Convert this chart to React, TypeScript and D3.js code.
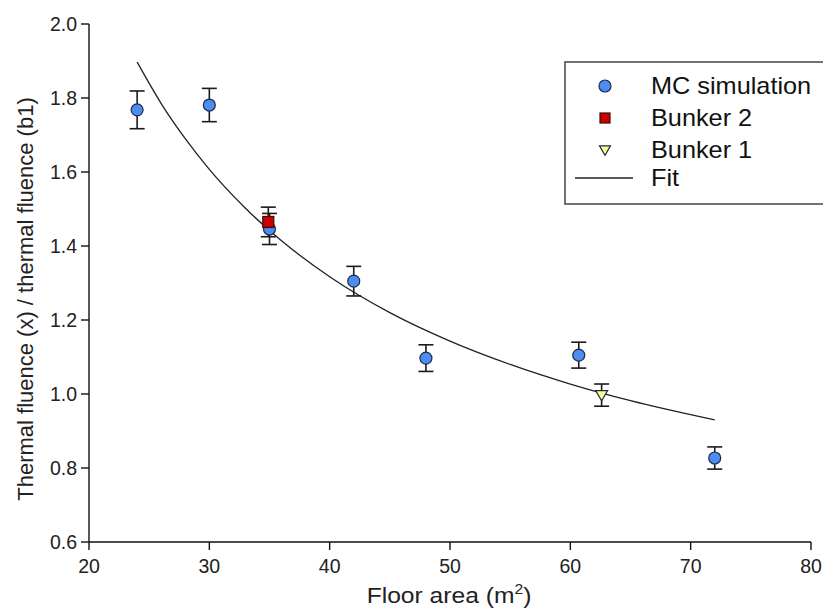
import React from "react";
import * as d3 from "d3";

// MC simulation points
const mcX = [24, 30, 35, 42, 48, 60.7, 72];
const mcY = [1.768, 1.781, 1.446, 1.305, 1.097, 1.105, 0.827];
const mcErr = [0.051, 0.045, 0.042, 0.04, 0.036, 0.035, 0.03];

// Bunker 2
const b2X = [34.9];
const b2Y = [1.465];
const b2Err = [0.04];

// Bunker 1
const b1X = [62.6];
const b1Y = [0.997];
const b1Err = [0.03];

// Fit curve
const fitX = [24, 26, 28, 30, 33, 36, 40, 45, 50, 55, 60, 65, 72];
const fitY = [1.897, 1.785, 1.69, 1.607, 1.502, 1.414, 1.317, 1.22, 1.143, 1.08, 1.027, 0.982, 0.93];

const xTicks = [20, 30, 40, 50, 60, 70, 80];
const yTicks = [0.6, 0.8, 1.0, 1.2, 1.4, 1.6, 1.8, 2.0];

const legendLabels = ["MC simulation", "Bunker 2", "Bunker 1", "Fit"];

const W = 823;
const H = 610;
const FONT = "Liberation Sans, Arial, Helvetica, sans-serif";

export default function App() {
  const x = d3.scaleLinear().domain([20, 80]).range([89, 811]);
  const y = d3.scaleLinear().domain([0.6, 2.0]).range([542, 24]);

  const line = d3
    .line<number>()
    .x((_, i) => x(fitX[i]))
    .y((d) => y(d))
    .curve(d3.curveMonotoneX);

  const capHalf = 7.5;
  const errBar = (cx: number, cy: number, e: number, key: string) => (
    <g key={key} stroke="#1a1a1a" strokeWidth={1.6}>
      <line x1={x(cx)} x2={x(cx)} y1={y(cy + e)} y2={y(cy - e)} />
      <line x1={x(cx) - capHalf} x2={x(cx) + capHalf} y1={y(cy + e)} y2={y(cy + e)} />
      <line x1={x(cx) - capHalf} x2={x(cx) + capHalf} y1={y(cy - e)} y2={y(cy - e)} />
    </g>
  );

  const circleFill = "#4d8cf0";
  const squareFill = "#cc0000";
  const triFill = "#ffff8c";
  const markStroke = "#1d2b4a";

  const tri = (cx: number, cy: number, s: number) =>
    `M${cx - s},${cy - s * 0.75} L${cx + s},${cy - s * 0.75} L${cx},${cy + s * 0.95} Z`;

  const legX = 605;
  const legRows = [86, 118, 150, 178];

  return (
    <svg
      width={W}
      height={H}
      style={{ position: "absolute", left: 0, top: 0, background: "#fff" }}
      fontFamily={FONT}
    >
      <rect x={0} y={0} width={W} height={H} fill="#fff" />

      {/* axes */}
      <g stroke="#111" strokeWidth={1.4} fill="none">
        <line x1={x(20)} x2={x(20)} y1={y(2.0)} y2={y(0.6)} />
        <line x1={x(20)} x2={x(80)} y1={y(0.6)} y2={y(0.6)} />
        {yTicks.map((t) => (
          <line key={"yt" + t} x1={x(20) - 8} x2={x(20)} y1={y(t)} y2={y(t)} />
        ))}
        {xTicks.map((t) => (
          <line key={"xt" + t} x1={x(t)} x2={x(t)} y1={y(0.6)} y2={y(0.6) + 8} />
        ))}
      </g>
      <g fontSize={19.5} fill="#222">
        {yTicks.map((t) => (
          <text key={"yl" + t} x={x(20) - 12} y={y(t)} dy="0.35em" textAnchor="end">
            {t.toFixed(1)}
          </text>
        ))}
        {xTicks.map((t) => (
          <text key={"xl" + t} x={x(t)} y={y(0.6) + 31} textAnchor="middle">
            {t}
          </text>
        ))}
      </g>
      <g transform="translate(449,0) scale(1.12,1)">
        <text x={0} y={603} fontSize={22} textAnchor="middle" fill="#222">
          Floor area (m
          <tspan fontSize={14} dy={-9}>2</tspan>
          <tspan dy={9}>)</tspan>
        </text>
      </g>
      <text
        transform={`translate(33,299) rotate(-90)`}
        fontSize={22}
        textAnchor="middle"
        fill="#222"
      >
        Thermal fluence (x) / thermal fluence (b1)
      </text>

      {/* fit */}
      <path d={line(fitY) || ""} fill="none" stroke="#222" strokeWidth={1.3} />

      {/* error bars */}
      {mcX.map((v, i) => errBar(v, mcY[i], mcErr[i], "me" + i))}
      {b1X.map((v, i) => errBar(v, b1Y[i], b1Err[i], "b1e" + i))}
      {b2X.map((v, i) => errBar(v, b2Y[i], b2Err[i], "b2e" + i))}

      {/* markers */}
      {mcX.map((v, i) => (
        <circle key={"mc" + i} cx={x(v)} cy={y(mcY[i])} r={6} fill={circleFill} stroke={markStroke} strokeWidth={1.2} />
      ))}
      {b1X.map((v, i) => (
        <path key={"b1" + i} d={tri(x(v), y(b1Y[i]), 6)} fill={triFill} stroke={markStroke} strokeWidth={1.2} />
      ))}
      {b2X.map((v, i) => (
        <rect key={"b2" + i} x={x(v) - 5.5} y={y(b2Y[i]) - 5.5} width={11} height={11} fill={squareFill} stroke="#3a0a0a" strokeWidth={1.2} />
      ))}

      {/* legend */}
      <rect x={565} y={62} width={270} height={142} fill="#fff" stroke="#444" strokeWidth={1.5} />
      <circle cx={legX} cy={legRows[0]} r={6} fill={circleFill} stroke={markStroke} strokeWidth={1.2} />
      <rect x={legX - 5} y={legRows[1] - 5} width={10} height={10} fill={squareFill} stroke="#3a0a0a" strokeWidth={1.2} />
      <path d={tri(legX, legRows[2], 5.5)} fill={triFill} stroke={markStroke} strokeWidth={1.2} />
      <line x1={575} x2={633} y1={legRows[3]} y2={legRows[3]} stroke="#222" strokeWidth={1.3} />
      <g transform="translate(651,0) scale(1.1,1)">
        {legendLabels.map((l, i) => (
          <text key={l} x={0} y={legRows[i]} dy="0.36em" fontSize={23} fill="#111">
            {l}
          </text>
        ))}
      </g>
    </svg>
  );
}
